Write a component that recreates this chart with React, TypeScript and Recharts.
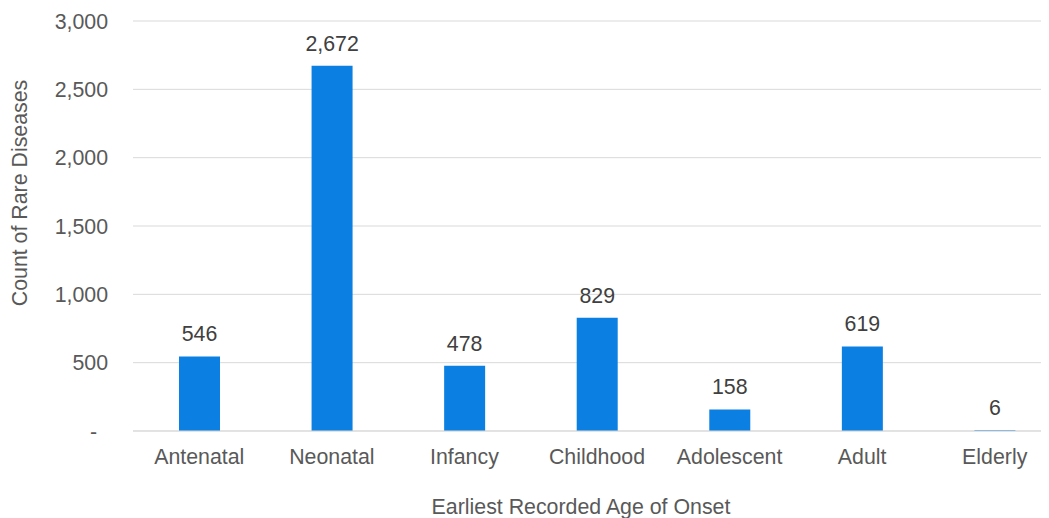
import React from 'react';
import { BarChart, Bar, XAxis, YAxis, CartesianGrid, LabelList, Label } from 'recharts';

const categories = ['Antenatal', 'Neonatal', 'Infancy', 'Childhood', 'Adolescent', 'Adult', 'Elderly'];
const counts = [546, 2672, 478, 829, 158, 619, 6];
const yTicks = [0, 500, 1000, 1500, 2000, 2500, 3000];

const data = categories.map((c, i) => ({ name: c, value: counts[i] }));

const FONT = '"Liberation Sans", Arial, sans-serif';
const FS = 21.33;

const fmt = (v: number) => (v === 0 ? '-' : v.toLocaleString('en-US'));

const YTick = (props: any) => {
  const { x, y, payload } = props;
  const isZero = payload.value === 0;
  return (
    <text
      x={isZero ? x - 11 : x}
      y={y}
      dy="0.36em"
      textAnchor="end"
      fill="#595959"
      fontSize={FS}
      fontFamily={FONT}
    >
      {fmt(payload.value)}
    </text>
  );
};

export default function App() {
  return (
    <div style={{ width: 1041, height: 510, overflow: 'hidden' }}>
      <BarChart
        width={1053}
        height={510}
        data={data}
        margin={{ top: 13, right: 0, bottom: 0, left: 0 }}
        style={{ fontFamily: FONT }}
      >
        <CartesianGrid vertical={false} stroke="#d9d9d9" strokeWidth={1} />
        <XAxis
          dataKey="name"
          height={87}
          tickLine={false}
          tickSize={6}
          tickMargin={12}
          axisLine={{ stroke: '#d9d9d9', strokeWidth: 1 }}
          tick={{ fill: '#595959', fontSize: FS, fontFamily: FONT }}
          interval={0}
        >
          <Label
            value="Earliest Recorded Age of Onset"
            position="insideBottom"
            offset={4}
            dx={-16}
            fill="#595959"
            fontSize={FS}
            fontFamily={FONT}
          />
        </XAxis>
        <YAxis
          width={125}
          domain={[0, 3000]}
          ticks={yTicks}
          interval={0}
          axisLine={false}
          tickLine={false}
          tickSize={6}
          tickMargin={19}
          tick={<YTick />}
        >
          <Label
            value="Count of Rare Diseases"
            angle={-90}
            position="center"
            dx={-51}
            dy={-33}
            fill="#595959"
            fontSize={FS}
            fontFamily={FONT}
          />
        </YAxis>
        <Bar dataKey="value" fill="#0B80E2" barSize={41} isAnimationActive={false}>
          <LabelList
            dataKey="value"
            position="top"
            offset={15}
            formatter={(v: any) => Number(v).toLocaleString('en-US')}
            fill="#404040"
            fontSize={FS}
            fontFamily={FONT}
          />
        </Bar>
      </BarChart>
    </div>
  );
}
